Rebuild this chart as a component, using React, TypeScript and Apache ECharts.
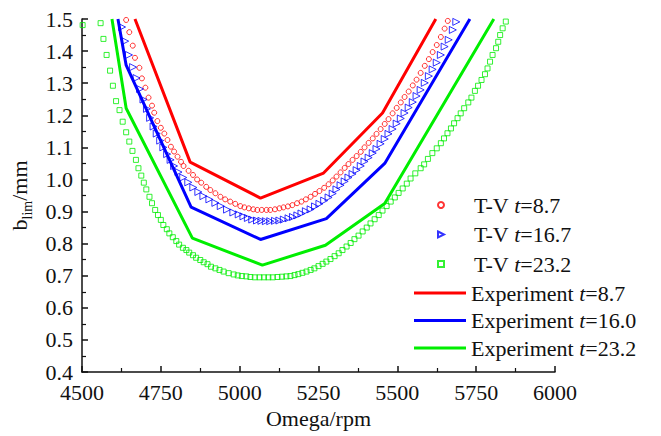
import React, { useEffect, useRef } from "react";
import * as echarts from "echarts";

// ---------- data ----------
const xTicks = [4500, 4750, 5000, 5250, 5500, 5750, 6000];
const yTicks = [0.4, 0.5, 0.6, 0.7, 0.8, 0.9, 1.0, 1.1, 1.2, 1.3, 1.4, 1.5];

const tvNames = ["T-V t=8.7", "T-V t=16.7", "T-V t=23.2"];
const expNames = ["Experiment t=8.7", "Experiment t=16.0", "Experiment t=23.2"];

// T-V prediction, t = 8.7  [rpm, b_lim]
const tv87: [number, number][] = [
  [4640, 1.497], [4650, 1.459], [4661, 1.417], [4668, 1.379], [4682, 1.348],
  [4690, 1.315], [4701, 1.286], [4711, 1.255], [4722, 1.23], [4729, 1.208],
  [4739, 1.182], [4750, 1.161], [4761, 1.143], [4771, 1.123], [4782, 1.102],
  [4792, 1.087], [4803, 1.071], [4814, 1.055], [4822, 1.042], [4838, 1.027],
  [4852, 1.014], [4865, 1.0], [4878, 0.99], [4894, 0.977], [4907, 0.967],
  [4923, 0.957], [4939, 0.946], [4954, 0.938], [4970, 0.931], [4986, 0.924],
  [5002, 0.917], [5015, 0.913], [5029, 0.91], [5043, 0.907], [5056, 0.905],
  [5070, 0.905], [5085, 0.905], [5097, 0.905], [5112, 0.907], [5126, 0.91],
  [5139, 0.913], [5153, 0.916], [5167, 0.92], [5182, 0.926], [5196, 0.931],
  [5210, 0.938], [5225, 0.946], [5239, 0.955], [5253, 0.964], [5268, 0.974],
  [5282, 0.985], [5295, 0.997], [5307, 1.009], [5320, 1.022], [5333, 1.036],
  [5345, 1.048], [5358, 1.061], [5371, 1.073], [5384, 1.086], [5396, 1.1],
  [5409, 1.114], [5422, 1.128], [5434, 1.142], [5447, 1.157], [5460, 1.173],
  [5472, 1.188], [5485, 1.206], [5498, 1.223], [5511, 1.24], [5523, 1.257],
  [5536, 1.274], [5549, 1.293], [5561, 1.311], [5574, 1.332], [5587, 1.354],
  [5600, 1.375], [5612, 1.397], [5625, 1.419], [5638, 1.444], [5650, 1.47],
  [5660, 1.494],
];

// T-V prediction, t = 16.7
const tv167: [number, number][] = [
  [4627, 1.475], [4637, 1.431], [4649, 1.388], [4662, 1.35], [4673, 1.316],
  [4684, 1.282], [4695, 1.249], [4706, 1.22], [4716, 1.192], [4727, 1.165],
  [4737, 1.143], [4748, 1.121], [4758, 1.1], [4770, 1.079], [4781, 1.061],
  [4792, 1.042], [4806, 1.023], [4821, 1.006], [4837, 0.991], [4853, 0.975],
  [4869, 0.961], [4885, 0.948], [4904, 0.938], [4923, 0.927], [4940, 0.917],
  [4960, 0.906], [4980, 0.897], [4997, 0.891], [5012, 0.885], [5026, 0.88],
  [5040, 0.875], [5055, 0.872], [5069, 0.871], [5083, 0.87], [5097, 0.87],
  [5112, 0.871], [5126, 0.872], [5140, 0.875], [5155, 0.879], [5169, 0.883],
  [5183, 0.888], [5196, 0.894], [5210, 0.901], [5225, 0.907], [5239, 0.916],
  [5253, 0.924], [5268, 0.934], [5282, 0.944], [5295, 0.956], [5307, 0.969],
  [5320, 0.982], [5333, 0.994], [5345, 1.006], [5358, 1.017], [5371, 1.029],
  [5384, 1.042], [5396, 1.056], [5409, 1.068], [5422, 1.082], [5434, 1.095],
  [5447, 1.111], [5460, 1.126], [5472, 1.142], [5485, 1.157], [5498, 1.174],
  [5511, 1.19], [5523, 1.207], [5536, 1.224], [5549, 1.241], [5561, 1.26],
  [5574, 1.279], [5587, 1.301], [5600, 1.322], [5612, 1.343], [5625, 1.364],
  [5638, 1.388], [5650, 1.414], [5663, 1.435], [5676, 1.466], [5687, 1.491],
];

// T-V prediction, t = 23.2
const tv232: [number, number][] = [
  [4502, 1.481], [4559, 1.487], [4568, 1.438], [4578, 1.388], [4589, 1.339],
  [4598, 1.292], [4608, 1.244], [4619, 1.216], [4629, 1.18], [4640, 1.147],
  [4650, 1.118], [4660, 1.089], [4671, 1.061], [4679, 1.035], [4688, 1.012],
  [4696, 0.99], [4704, 0.969], [4714, 0.946], [4722, 0.926], [4732, 0.905],
  [4741, 0.889], [4750, 0.874], [4758, 0.858], [4769, 0.845], [4777, 0.832],
  [4788, 0.82], [4799, 0.808], [4808, 0.797], [4820, 0.787], [4831, 0.78],
  [4840, 0.772], [4852, 0.764], [4862, 0.756], [4875, 0.749], [4886, 0.742],
  [4898, 0.736], [4909, 0.728], [4923, 0.723], [4936, 0.718], [4949, 0.713],
  [4965, 0.708], [4981, 0.704], [4994, 0.701], [5007, 0.699], [5021, 0.698],
  [5034, 0.696], [5048, 0.695], [5063, 0.695], [5077, 0.695], [5091, 0.695],
  [5105, 0.695], [5120, 0.696], [5134, 0.697], [5148, 0.698], [5161, 0.699],
  [5174, 0.702], [5186, 0.705], [5199, 0.709], [5212, 0.713], [5225, 0.718],
  [5237, 0.723], [5250, 0.73], [5263, 0.737], [5275, 0.744], [5288, 0.752],
  [5301, 0.761], [5314, 0.77], [5326, 0.78], [5339, 0.791], [5352, 0.802],
  [5364, 0.814], [5377, 0.825], [5390, 0.838], [5403, 0.85], [5415, 0.863],
  [5428, 0.876], [5441, 0.889], [5453, 0.903], [5466, 0.917], [5479, 0.931],
  [5492, 0.944], [5504, 0.958], [5517, 0.972], [5530, 0.987], [5542, 1.003],
  [5557, 1.019], [5574, 1.035], [5585, 1.047], [5597, 1.064], [5611, 1.082],
  [5625, 1.097], [5638, 1.113], [5648, 1.128], [5659, 1.144], [5670, 1.159],
  [5680, 1.175], [5691, 1.191], [5701, 1.206], [5712, 1.222], [5725, 1.24],
  [5735, 1.255], [5746, 1.276], [5756, 1.292], [5767, 1.31], [5778, 1.328],
  [5786, 1.346], [5794, 1.367], [5802, 1.388], [5813, 1.409], [5820, 1.429],
  [5826, 1.45], [5834, 1.471], [5844, 1.492],
];

// Experiment curves
const exp87: [number, number][] = [
  [4668, 1.5], [4843, 1.054], [5066, 0.942], [5266, 1.02], [5453, 1.207], [5622, 1.5],
];
const exp160: [number, number][] = [
  [4614, 1.5], [4640, 1.356], [4846, 0.914], [5066, 0.813], [5275, 0.878], [5460, 1.05], [5730, 1.5],
];
const exp232: [number, number][] = [
  [4595, 1.5], [4640, 1.222], [4850, 0.817], [5072, 0.733], [5272, 0.795], [5460, 0.925], [5806, 1.5],
];

const RED = "#ff0000";
const BLUE = "#0000ff";
const GREEN = "#00ee00";
const FONT = '"Liberation Serif", "Times New Roman", serif';
const INK = "#111";
const TRI_RIGHT = "path://M0,0L10,5L0,10Z"; // triangle with apex pointing right

export default function App() {
  const ref = useRef<HTMLDivElement>(null);

  useEffect(() => {
    if (!ref.current) return;
    const chart = echarts.init(ref.current, undefined, { renderer: "svg" });

    const scatter = (name: string, data: [number, number][], color: string, symbol: string, size: number) => ({
      name,
      type: "scatter",
      data,
      symbol,
      symbolSize: size,
      itemStyle: { color: "rgba(255,255,255,0)", borderColor: color, borderWidth: 1 },
      z: 3,
    });
    const line = (name: string, data: [number, number][], color: string) => ({
      name,
      type: "line",
      data,
      symbol: "none",
      lineStyle: { color, width: 3 },
      itemStyle: { color },
      clip: true,
      z: 2,
    });

    const legendText = {
      fontFamily: FONT,
      fontSize: 22,
      color: INK,
      lineHeight: 22,
      rich: {
        i: { fontFamily: FONT, fontSize: 22, fontStyle: "italic", color: INK, lineHeight: 22 },
        sp: { width: 25, lineHeight: 22 },
      },
    };

    chart.setOption({
      animation: false,
      backgroundColor: "#ffffff",
      grid: { left: 82, right: 106, top: 19, bottom: 64, outerBoundsMode: "none" },
      legend: [
        {
          orient: "vertical",
          left: 437,
          top: 194,
          padding: 0,
          itemWidth: 6,
          itemHeight: 6,
          itemGap: 7.5,
          data: [
            { name: tvNames[0], icon: "circle" },
            { name: tvNames[1], icon: TRI_RIGHT },
            { name: tvNames[2], icon: "rect" },
          ],
          formatter: (n: string) => "{sp|}" + n.replace(" t=", " {i|t}="),
          textStyle: legendText,
        },
        {
          orient: "vertical",
          left: 414,
          top: 282,
          padding: 0,
          itemWidth: 52,
          itemHeight: 3,
          itemGap: 5.5,
          icon: "rect",
          data: expNames,
          formatter: (n: string) => n.replace(" t=", " {i|t}="),
          textStyle: legendText,
        },
      ],
      xAxis: {
        type: "value",
        min: xTicks[0],
        max: xTicks[xTicks.length - 1],
        interval: 250,
        name: "Omega/rpm",
        nameLocation: "middle",
        nameGap: 26,
        nameTextStyle: { fontFamily: FONT, fontSize: 22, color: INK },
        axisLine: { lineStyle: { color: INK, width: 1.5 } },
        axisTick: { inside: true, length: 6, lineStyle: { color: INK, width: 1.5 } },
        minorTick: { show: true, splitNumber: 2, length: 4, lineStyle: { color: INK, width: 1.2 } },
        axisLabel: { fontFamily: FONT, fontSize: 22, color: INK, margin: 9, formatter: (v: number) => String(v) },
        splitLine: { show: false },
      },
      yAxis: {
        type: "value",
        min: yTicks[0],
        max: yTicks[yTicks.length - 1],
        interval: 0.1,
        name: "{b|b}{s|lim}{b|/mm}",
        nameLocation: "middle",
        nameGap: 47,
        nameRotate: 90,
        nameTextStyle: {
          fontFamily: FONT,
          fontSize: 22,
          color: INK,
          rich: {
            b: { fontFamily: FONT, fontSize: 22, color: INK, verticalAlign: "bottom", padding: [0, 0, 4, 0] },
            s: { fontFamily: FONT, fontSize: 14, color: INK, verticalAlign: "bottom" },
          },
        },
        axisLine: { lineStyle: { color: INK, width: 1.5 } },
        axisTick: { inside: true, length: 6, lineStyle: { color: INK, width: 1.5 } },
        minorTick: { show: true, splitNumber: 2, length: 4, lineStyle: { color: INK, width: 1.2 } },
        axisLabel: {
          fontFamily: FONT,
          fontSize: 22,
          color: INK,
          margin: 9,
          formatter: (v: number) => v.toFixed(1),
        },
        splitLine: { show: false },
      },
      series: [
        scatter(tvNames[0], tv87, RED, "circle", 5),
        scatter(tvNames[1], tv167, BLUE, TRI_RIGHT, 7),
        scatter(tvNames[2], tv232, GREEN, "rect", 5),
        line(expNames[0], exp87, RED),
        line(expNames[1], exp160, BLUE),
        line(expNames[2], exp232, GREEN),
      ],
    });

    return () => chart.dispose();
  }, []);

  return <div ref={ref} style={{ width: 661, height: 436, position: "absolute", left: 0, top: 0 }} />;
}
